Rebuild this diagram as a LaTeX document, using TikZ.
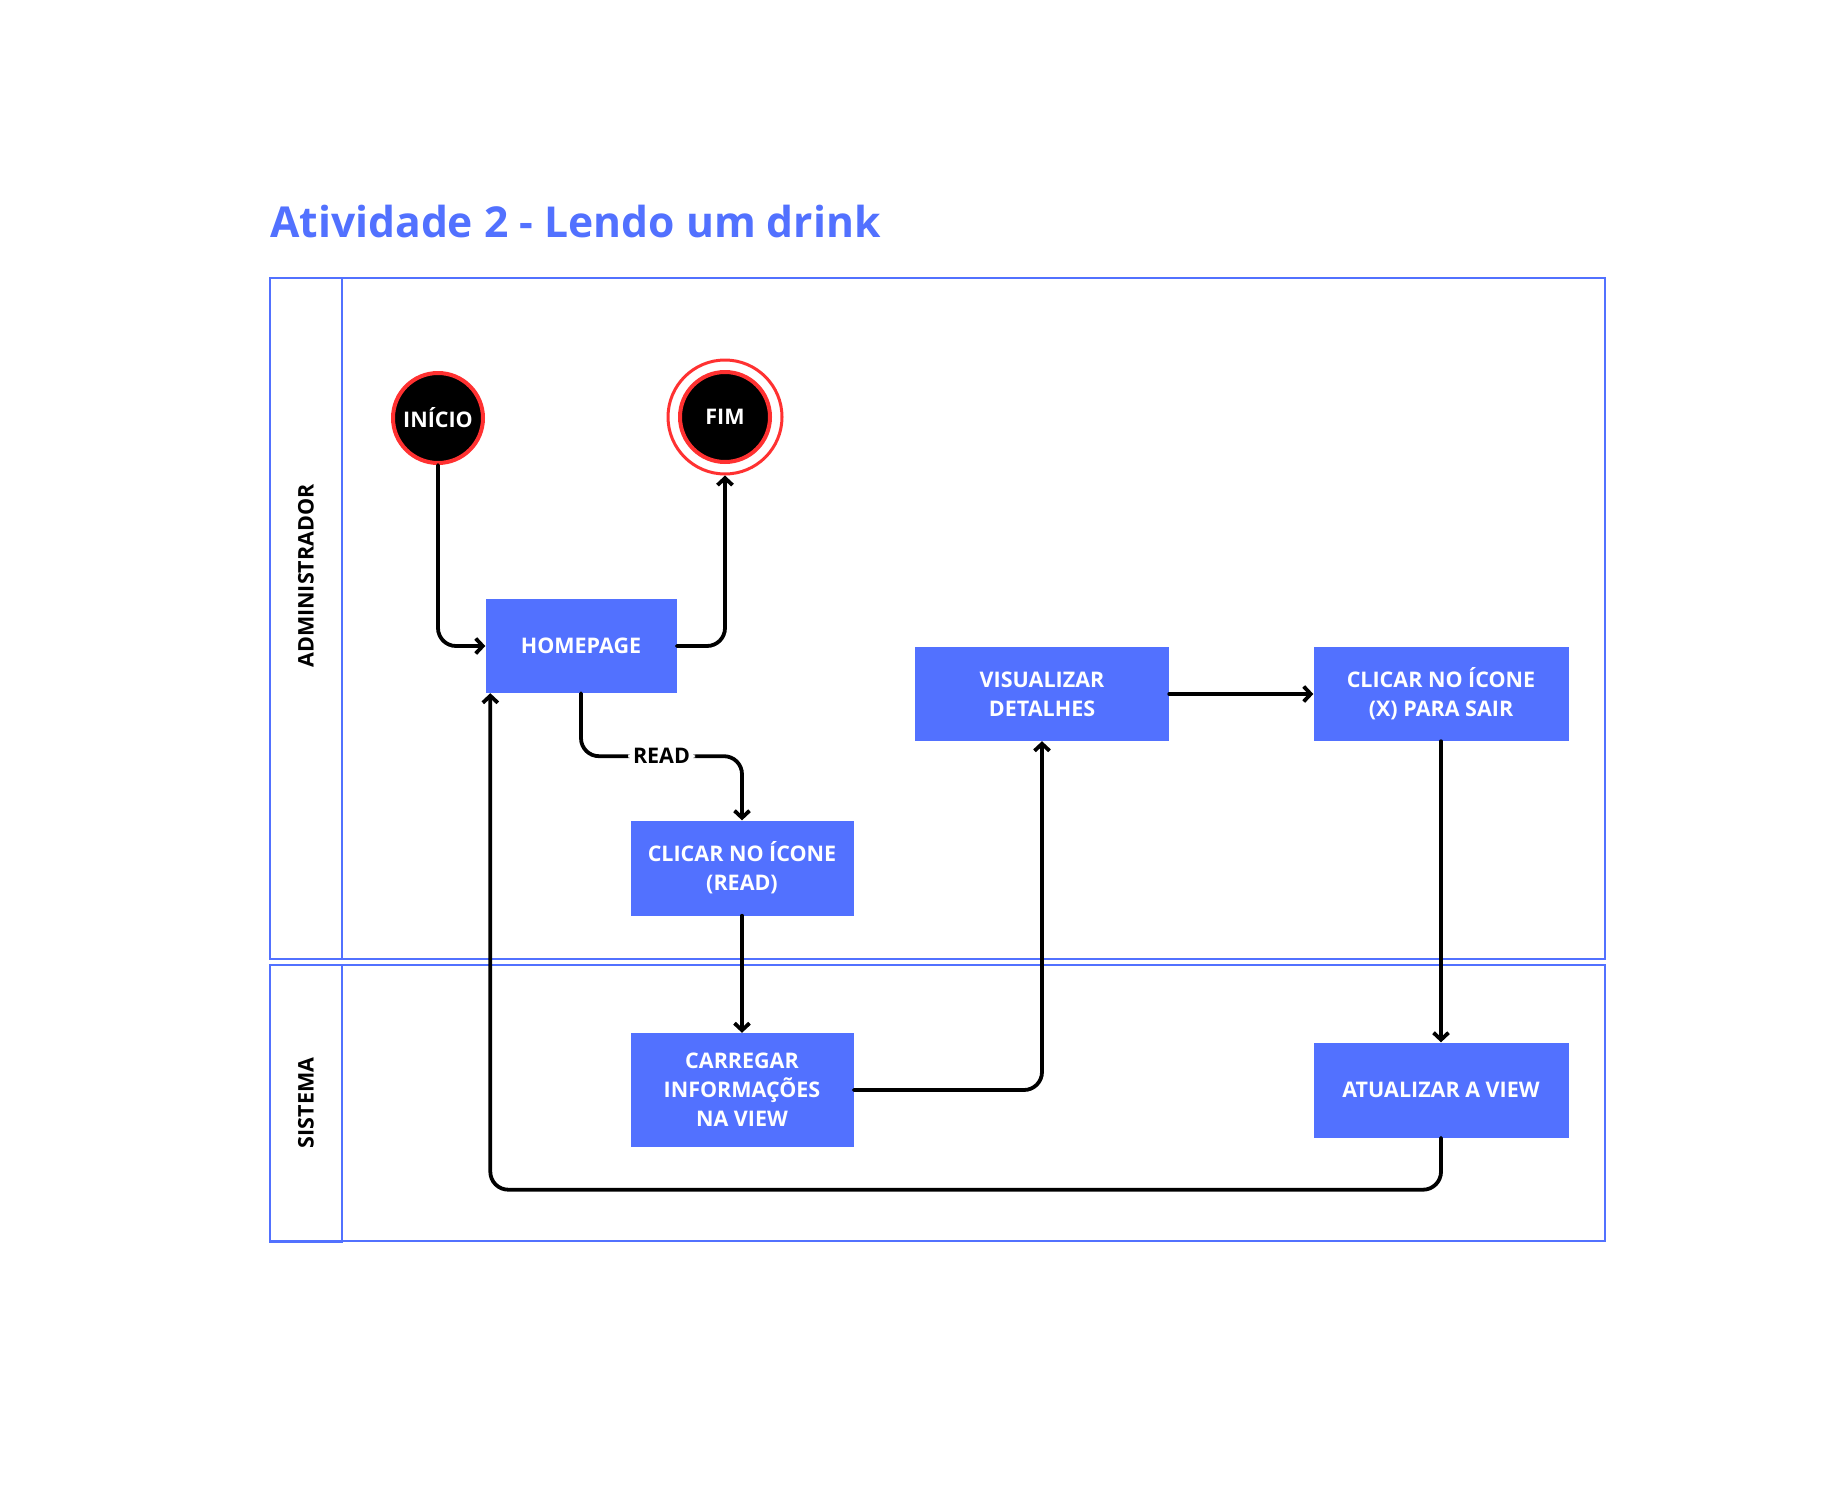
\documentclass[tikz,border=0pt]{standalone}
\usepackage{fontspec}
\setmainfont{Open Sans}
\usetikzlibrary{arrows.meta,calc}
\definecolor{cblue}{HTML}{5271FF}
\definecolor{cred}{HTML}{FF3131}
\begin{document}
\begin{tikzpicture}[x=1pt,y=-1pt,
  box/.style={fill=cblue, text=white, font=\fontsize{21.5}{29}\selectfont\bfseries, align=center, inner sep=0pt},
  lane/.style={draw=cblue, line width=2pt},
  startnode/.style={circle, fill=black, draw=cred, line width=4pt, minimum size=90pt, inner sep=0pt, text=white, font=\fontsize{21.5}{24}\selectfont\bfseries},
  ring/.style={circle, draw=cred, line width=3pt, minimum size=114pt, inner sep=0pt},
  lanelabel/.style={rotate=90, font=\fontsize{21.5}{24}\selectfont\bfseries, text=black},
  arr/.style={draw=black, line width=3.8pt, line cap=round, rounded corners=18pt, -{Straight Barb[length=7pt,width=15pt]}},
  lbl/.style={fill=white, font=\fontsize{21.5}{24}\selectfont\bfseries, text=black, inner sep=5pt}
]
\useasboundingbox (0,0) rectangle (1830,1485);
\fill[white] (0,0) rectangle (1830,1485);

\node[anchor=base west, text=cblue, font=\fontsize{42.6}{50}\selectfont\bfseries, inner sep=0pt] (title) at (270,237) {Atividade 2 - Lendo um drink};

% lanes
\draw[lane] (270,278) rectangle (1605,959);
\draw[lane] (342,278) -- (342,959);
\draw[lane] (270,965) rectangle (1605,1241);
\draw[lane] (270,965) rectangle (342,1242);
\node[lanelabel] (l1) at (306,576) {ADMINISTRADOR};
\node[lanelabel] (l2) at (306,1103) {SISTEMA};

% nodes
\node[startnode] (ini) at (438,418) {INÍCIO};
\node[ring] (fimo) at (725,417) {};
\node[startnode] (fim) at (725,417) {FIM};
\node[box, minimum width=191pt, minimum height=94pt] (home) at (581,646) {HOMEPAGE};
\node[box, minimum width=254pt, minimum height=94pt] (vis) at (1042,694) {VISUALIZAR\\DETALHES};
\node[box, minimum width=255pt, minimum height=94pt] (sair) at (1441,694) {CLICAR NO ÍCONE\\(X) PARA SAIR};
\node[box, minimum width=223pt, minimum height=95pt] (read) at (742,868) {CLICAR NO ÍCONE\\(READ)};
\node[box, minimum width=223pt, minimum height=114pt] (carr) at (742,1090) {CARREGAR\\INFORMAÇÕES\\NA VIEW};
\node[box, minimum width=255pt, minimum height=95pt] (atu) at (1441,1090) {ATUALIZAR A VIEW};

\coordinate (hin) at ($(home.south west)+(5,0)$);

% connectors
\draw[arr] (ini.south) |- (home.west);
\draw[arr] (home.east) -| (fimo.south);
\draw[arr] (home.south) -- ++(0,63) -| node[lbl, pos=0.25] {READ} (read.north);
\draw[arr] (read.south) -- (carr.north);
\draw[arr] (carr.east) -| (vis.south);
\draw[arr] (vis.east) -- (sair.west);
\draw[arr] (sair.south) -- (atu.north);
\draw[arr] (atu.south) -- ++(0,52) -| (hin);
\end{tikzpicture}
\end{document}
